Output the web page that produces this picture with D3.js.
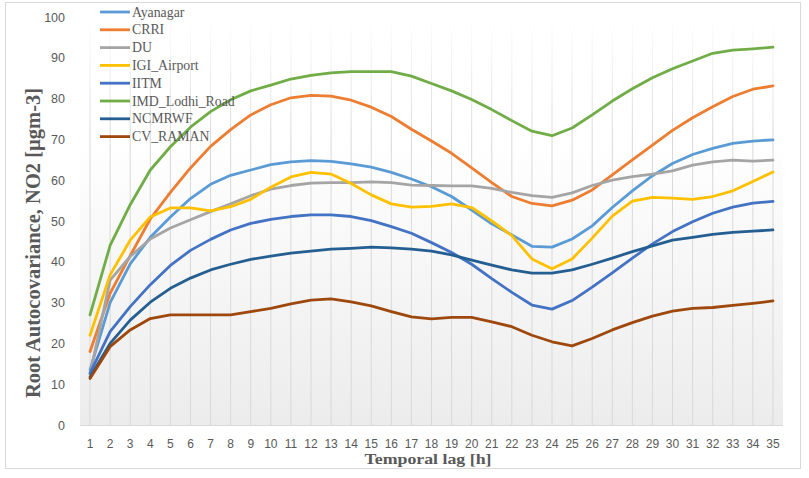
<!DOCTYPE html>
<html><head><meta charset="utf-8">
<script src="https://cdn.jsdelivr.net/npm/d3@7/dist/d3.min.js"></script>
<style>body{margin:0;background:#fff;}svg{display:block;}</style>
</head><body>
<svg id="c" width="809" height="478"></svg>
<script>
const lags = d3.range(1, 36).map(String);
const yTicks = [0,10,20,30,40,50,60,70,80,90,100];
const seriesNames = ["Ayanagar","CRRI","DU","IGI_Airport","IITM","IMD_Lodhi_Road","NCMRWF","CV_RAMAN"];
const seriesColors = ["#5b9bd5","#ed7d31","#a5a5a5","#ffc000","#4472c4","#70ad47","#255e91","#9e480e"];
const ayanagar = [13.5,30,39.5,46,51,55.5,59,61.2,62.5,63.8,64.5,64.8,64.6,64,63.2,61.9,60.3,58.4,56,52.7,49.3,46.6,43.8,43.6,45.6,48.8,53.3,57.4,61.1,64.1,66.3,67.8,69,69.6,69.9];
const crri = [18,32.3,41.5,50.5,57,63,68.3,72.4,76,78.5,80.2,80.8,80.6,79.6,77.9,75.6,72.5,69.6,66.6,63,59.4,56,54.3,53.7,55.1,57.6,61.3,65,68.6,72.2,75.3,78,80.5,82.3,83.1];
const du = [12.5,35.5,41.3,45.6,48.3,50.3,52.3,54.2,56.2,57.8,58.7,59.3,59.4,59.4,59.6,59.4,58.8,58.7,58.6,58.6,58,57,56.2,55.8,56.9,58.7,60,60.9,61.5,62.3,63.7,64.5,64.9,64.7,64.9];
const igi = [22,36.8,45.3,51,53.2,53.2,52.5,53.5,55.3,58.3,60.8,61.9,61.5,59.2,56.4,54.2,53.4,53.6,54.2,53.3,50,46.4,40.7,38.3,40.7,45.8,51.2,54.9,55.8,55.6,55.3,56,57.4,59.7,62];
const iitm = [12.7,22.9,29,34.4,39.1,42.8,45.5,47.8,49.4,50.4,51.1,51.5,51.5,51.1,50.1,48.6,47,44.7,42.3,39.4,35.9,32.5,29.4,28.4,30.5,33.8,37.3,40.9,44.4,47.4,49.8,51.9,53.4,54.4,54.8];
const imd = [27,44,54,62.5,68.2,73,76.8,79.7,81.9,83.3,84.8,85.7,86.3,86.6,86.6,86.6,85.5,83.7,81.9,79.8,77.3,74.6,72,70.9,72.8,76,79.4,82.4,85.1,87.3,89.2,91.1,91.9,92.2,92.6];
const ncmrwf = [11.8,20,25.7,30.1,33.5,36,38,39.4,40.6,41.4,42.1,42.6,43.1,43.3,43.6,43.4,43.1,42.6,41.7,40.4,39.2,38,37.2,37.2,38,39.4,40.9,42.5,43.9,45.3,46,46.7,47.2,47.5,47.8];
const cvraman = [11.4,19.2,23.3,26.1,27,27,27,27,27.8,28.6,29.7,30.6,30.9,30.2,29.2,27.8,26.5,26,26.4,26.4,25.3,24.1,22,20.4,19.4,21.2,23.3,25.1,26.7,27.9,28.6,28.8,29.3,29.8,30.4];
const seriesValues = [ayanagar, crri, du, igi, iitm, imd, ncmrwf, cvraman];

const svg = d3.select("#c");
const L = 80, R = 783, T = 17, B = 425;
const x = d3.scaleBand().domain(lags).range([L, R]);
const xc = d => x(d) + x.bandwidth()/2;
const y = d3.scaleLinear().domain([0, 100]).range([B, T]);

const defs = svg.append("defs");
const bg = defs.append("linearGradient").attr("id","bg").attr("x1",0).attr("y1",0).attr("x2",0).attr("y2",1);
bg.append("stop").attr("offset","0%").attr("stop-color","#ffffff");
bg.append("stop").attr("offset","30%").attr("stop-color","#ffffff");
bg.append("stop").attr("offset","100%").attr("stop-color","#ececec");
const gg = defs.append("linearGradient").attr("id","gg").attr("gradientUnits","userSpaceOnUse")
  .attr("x1",0).attr("y1",T).attr("x2",0).attr("y2",B);
gg.append("stop").attr("offset","0%").attr("stop-color","#d9d9d9").attr("stop-opacity",0);
gg.append("stop").attr("offset","12%").attr("stop-color","#d9d9d9").attr("stop-opacity",0.4);
gg.append("stop").attr("offset","30%").attr("stop-color","#d9d9d9").attr("stop-opacity",1);
gg.append("stop").attr("offset","100%").attr("stop-color","#d9d9d9").attr("stop-opacity",1);

// outer border
svg.append("rect").attr("x",5.5).attr("y",2.5).attr("width",795).attr("height",466)
  .attr("fill","#fff").attr("stroke","#d9d9d9");

// plot bg
svg.append("rect").attr("x",L).attr("y",T).attr("width",R-L).attr("height",B-T).attr("fill","url(#bg)");

// vertical gridlines
svg.append("g").selectAll("line").data(lags).join("line")
  .attr("x1",d=>xc(d)).attr("x2",d=>xc(d)).attr("y1",T).attr("y2",B)
  .attr("stroke","url(#gg)").attr("stroke-width",1);

// x axis baseline
svg.append("line").attr("x1",L).attr("x2",R).attr("y1",B+0.5).attr("y2",B+0.5).attr("stroke","#d9d9d9");

// axes
const xa = svg.append("g").attr("transform",`translate(0,${B})`)
  .call(d3.axisBottom(x).tickSize(0).tickPadding(14));
xa.select(".domain").remove();
xa.selectAll("text").attr("font-family","'Liberation Sans', Arial, sans-serif").attr("font-size","12px").attr("fill","#595959");

const ya = svg.append("g").attr("transform",`translate(${L},0)`)
  .call(d3.axisLeft(y).tickValues(yTicks).tickSize(0).tickPadding(15));
ya.select(".domain").remove();
ya.selectAll("text").attr("font-family","'Liberation Sans', Arial, sans-serif").attr("font-size","12.5px").attr("fill","#595959");

// lines
const line = d3.line().x((d,i)=>xc(lags[i])).y(d=>y(d));
svg.append("g").selectAll("path").data(seriesValues).join("path")
  .attr("d", d=>line(d)).attr("fill","none")
  .attr("stroke",(d,i)=>seriesColors[i]).attr("stroke-width",2.8)
  .attr("stroke-linejoin","round").attr("stroke-linecap","round");

// legend
const lg = svg.append("g");
seriesNames.forEach((n,i)=>{
  const cy = 12 + i*17.8;
  lg.append("line").attr("x1",100).attr("x2",130).attr("y1",cy).attr("y2",cy)
    .attr("stroke",seriesColors[i]).attr("stroke-width",2.8);
  lg.append("text").attr("x",132).attr("y",cy+4.5).text(n)
    .attr("font-family","'Liberation Serif','Times New Roman',serif").attr("font-size","13.8px").attr("fill","#595959");
});

// axis titles
svg.append("text").attr("transform",`translate(40,243) rotate(-90)`)
  .attr("text-anchor","middle").attr("font-family","'Liberation Serif','Times New Roman',serif")
  .attr("font-weight","bold").attr("font-size","20.5px").attr("fill","#595959")
  .text("Root Autocovariance, NO2 [µgm-3]");
svg.append("text").attr("transform","translate(428,464) scale(1.15,1)").attr("text-anchor","middle")
  .attr("font-family","'Liberation Serif','Times New Roman',serif")
  .attr("font-weight","bold").attr("font-size","15.5px").attr("fill","#595959")
  .text("Temporal lag [h]");
</script>
</body></html>
